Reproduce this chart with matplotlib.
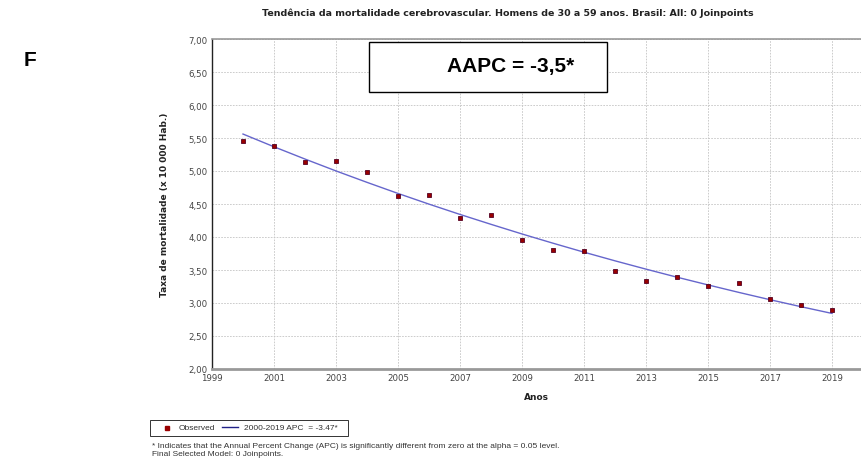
import matplotlib
matplotlib.use("Agg")
import matplotlib.pyplot as plt
from matplotlib.patches import Rectangle
from matplotlib.lines import Line2D

years = list(range(2000, 2020))
observed = [5.45, 5.38, 5.14, 5.15, 4.98, 4.62, 4.63, 4.29, 4.33, 3.95,
            3.81, 3.79, 3.48, 3.33, 3.40, 3.26, 3.30, 3.06, 2.97, 2.89]
fitted = [5.560, 5.367, 5.181, 5.001, 4.828, 4.660, 4.498, 4.342, 4.192, 4.046,
          3.906, 3.770, 3.639, 3.513, 3.391, 3.274, 3.160, 3.050, 2.944, 2.842]
xticks = list(range(1999, 2020, 2))
yticks = [2.0, 2.5, 3.0, 3.5, 4.0, 4.5, 5.0, 5.5, 6.0, 6.5, 7.0]
ytick_labels = ["2,00", "2,50", "3,00", "3,50", "4,00", "4,50", "5,00", "5,50", "6,00", "6,50", "7,00"]

W, H = 861, 460
fig = plt.figure(figsize=(W / 100, H / 100), dpi=100)
fig.patch.set_facecolor("white")

ax = fig.add_axes([212 / W, 1 - 370 / H, 649 / W, 330 / H])
ax.set_xlim(1999, 1999 + 649 / 31)
ax.set_ylim(2.0, 7.0)
ax.set_xticks(xticks)
ax.set_xticklabels([str(t) for t in xticks], fontsize=6.2, color="#444444")
ax.set_yticks(yticks)
ax.set_yticklabels(ytick_labels, fontsize=6.2, color="#444444")
ax.tick_params(length=0, pad=3)
ax.grid(True, color="#c4c4c4", linestyle=(0, (2, 1.5)), linewidth=0.6)
ax.set_axisbelow(True)
ax.spines["top"].set_color("#999999")
ax.spines["top"].set_linewidth(1.2)
ax.spines["right"].set_visible(False)
ax.spines["left"].set_color("#222222")
ax.spines["left"].set_linewidth(1.0)
ax.spines["bottom"].set_color("#999999")
ax.spines["bottom"].set_linewidth(2.0)

ax.plot(years, fitted, color="#6666cc", linewidth=1.0, zorder=3)
ax.plot(years, observed, linestyle="none", marker="s", markersize=3.3,
        markerfacecolor="#990000", markeredgecolor="#550022", markeredgewidth=0.6, zorder=4)

ax.set_xlabel("Anos", fontsize=6.5, fontweight="bold", color="#222222", labelpad=7)
ax.set_ylabel("Taxa de mortalidade (x 10 000 Hab.)", fontsize=6.5, fontweight="bold",
              color="#222222", labelpad=14)

fig.text(508 / W, 1 - 13 / H,
         "Tendência da mortalidade cerebrovascular. Homens de 30 a 59 anos. Brasil: All: 0 Joinpoints",
         ha="center", va="center", fontsize=6.8, fontweight="bold", color="#222222")

fig.text(30 / W, 1 - 60 / H, "F", ha="center", va="center", fontsize=15,
         fontweight="bold", family="Liberation Sans", color="black")

# AAPC box
fig.patches.append(Rectangle((369 / W, 1 - 93 / H), 238 / W, 50 / H, transform=fig.transFigure,
                             facecolor="white", edgecolor="black", linewidth=1.0, zorder=5))
fig.text(447 / W, 1 - 67 / H, "AAPC = -3,5*", ha="left", va="center", fontsize=15,
         fontweight="bold", family="Liberation Sans", color="black", zorder=6)

# Legend box
fig.patches.append(Rectangle((150 / W, 1 - 437 / H), 198 / W, 16 / H, transform=fig.transFigure,
                             facecolor="white", edgecolor="#333333", linewidth=0.7))
fig.lines.append(Line2D([167 / W], [1 - 428.5 / H], transform=fig.transFigure, marker="s",
                        markersize=2.5, markerfacecolor="#990000", markeredgecolor="#990000",
                        linestyle="none"))
fig.text(179 / W, 1 - 429 / H, "Observed", ha="left", va="center", fontsize=6.0,
         family="Liberation Sans", color="#333333")
fig.lines.append(Line2D([222 / W, 238 / W], [1 - 427.5 / H, 1 - 427.5 / H], transform=fig.transFigure,
                        color="#222288", linewidth=1.0))
fig.text(244 / W, 1 - 429 / H, "2000-2019 APC  = -3.47*", ha="left", va="center", fontsize=6.0,
         family="Liberation Sans", color="#333333")

fig.text(152 / W, 1 - 447 / H,
         "* Indicates that the Annual Percent Change (APC) is significantly different from zero at the alpha = 0.05 level.",
         ha="left", va="center", fontsize=6.0, family="Liberation Sans", color="#333333")
fig.text(152 / W, 1 - 454.5 / H, "Final Selected Model: 0 Joinpoints.",
         ha="left", va="center", fontsize=6.0, family="Liberation Sans", color="#333333")

fig.savefig("out.png", dpi=100)
